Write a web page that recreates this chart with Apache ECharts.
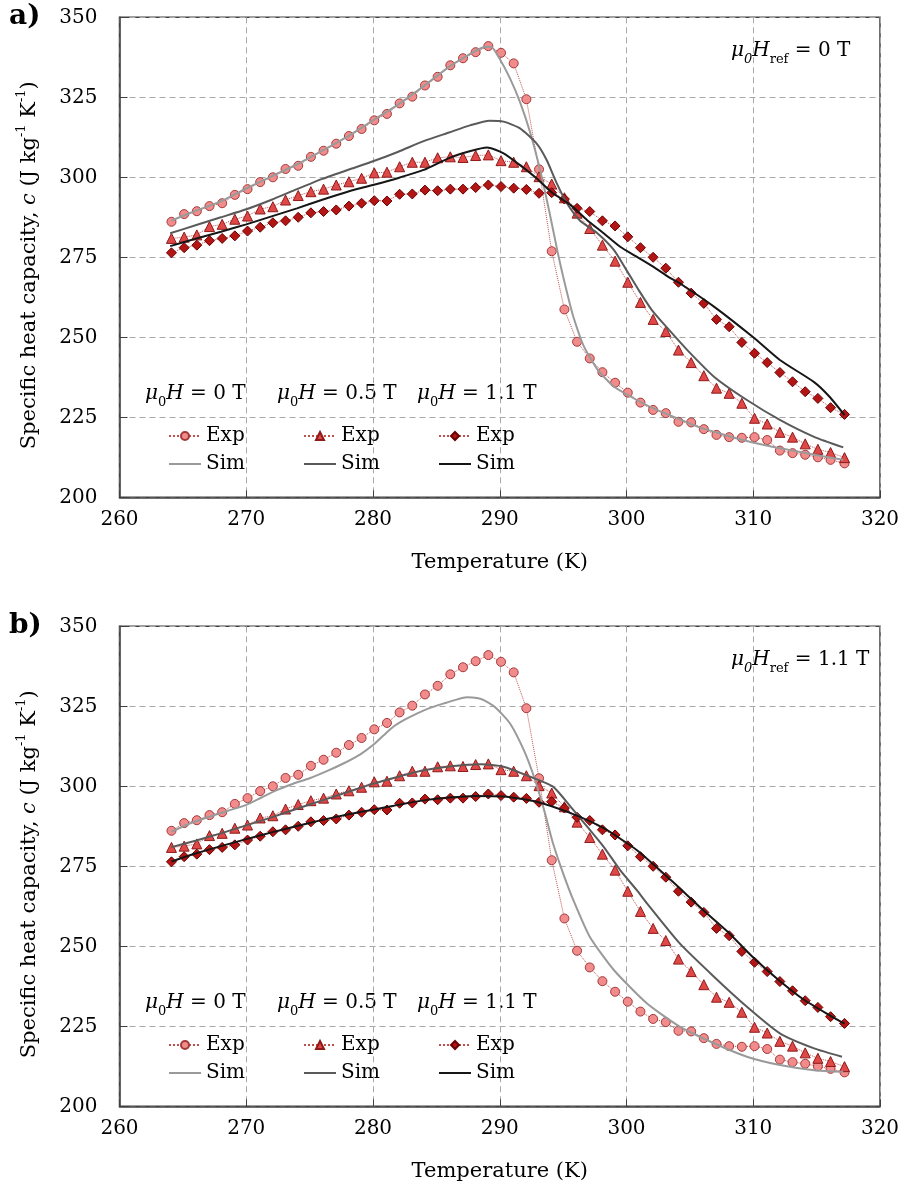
<!DOCTYPE html>
<html>
<head>
<meta charset="utf-8">
<script src="https://cdn.jsdelivr.net/npm/echarts@6/dist/echarts.min.js"></script>
<style>
html,body{margin:0;padding:0;background:#fff;}
#chart{width:904px;height:1185px;}
</style>
</head>
<body>
<div id="chart"></div>
<script>
// ---------------- DATA ----------------
const xTicks = [260, 270, 280, 290, 300, 310, 320];
const yTicks = [200, 225, 250, 275, 300, 325, 350];

// Experimental temperatures (K)
const T_EXP = [264.1,265.1,266.1,267.1,268.1,269.1,270.1,271.1,272.1,273.1,
  274.1,275.1,276.1,277.1,278.1,279.1,280.1,281.1,282.1,283.1,
  284.1,285.1,286.1,287.1,288.1,289.1,290.1,291.1,292.1,293.1,
  294.1,295.1,296.1,297.1,298.1,299.1,300.1,301.1,302.1,303.1,
  304.1,305.1,306.1,307.1,308.1,309.1,310.1,311.1,312.1,313.1,
  314.1,315.1,316.1,317.2];

// Experimental specific heat (J kg-1 K-1)
const EXP_0T = [286.1,288.5,289.4,291.0,291.9,294.5,296.3,298.5,300.0,302.6,
  303.6,306.4,308.3,310.5,312.9,315.1,317.8,319.8,323.1,325.2,
  328.7,331.4,335.0,337.2,339.1,341.0,338.9,335.6,324.4,302.5,
  276.9,258.7,248.6,243.4,239.1,235.8,232.7,229.6,227.3,226.3,
  223.6,223.4,221.3,219.5,218.8,218.6,218.8,217.9,214.6,213.8,
  213.3,212.5,211.7,210.6];
const EXP_05T = [280.9,281.3,282.0,284.6,285.3,286.9,287.9,290.1,290.8,292.9,
  294.3,295.5,296.3,297.6,298.6,299.7,301.4,301.6,303.3,304.7,
  304.7,306.1,306.4,306.2,306.8,307.0,305.2,304.7,303.3,300.2,
  297.9,293.6,288.8,284.0,278.8,273.8,267.2,260.9,255.6,251.8,
  246.0,242.1,238.0,234.1,232.5,229.4,224.7,222.9,220.3,218.8,
  216.7,215.0,214.0,212.4];
const EXP_11T = [276.4,278.0,278.8,280.2,280.9,281.7,283.2,284.4,285.8,286.4,
  287.5,288.9,289.3,289.8,291.0,291.9,292.7,292.6,294.7,294.8,
  296.0,295.8,296.3,296.3,296.8,297.6,297.1,296.6,296.2,295.0,
  295.2,293.2,290.3,289.3,286.4,284.8,281.4,278.0,275.0,271.6,
  267.2,263.8,260.6,255.6,253.3,248.4,245.0,242.1,239.0,236.1,
  233.0,230.9,228.0,225.9];

// Simulations, panel a (reference field 0 T)
const SIM_A_0T_T = [264.1,266,268,270,272,274,276,278,280,282,284,286,287.5,288.6,289.3,290.0,290.8,291.6,292.4,293.2,293.9,294.6,295.0,295.4,295.8,296.6,297.7,299.0,300.3,302.0,303.5,305.6,307.5,309.5,311.5,313.5,315.5,317.1];
const SIM_A_0T_C = [286.5,289.5,292.5,296.5,300.3,304.0,308.3,312.8,317.8,322.8,328.5,334.5,338.2,340.5,340.8,337.0,331.0,323.5,314.0,302.0,289.5,276.0,269.0,262.5,256.5,247.5,240.0,234.6,231.5,228.0,225.5,222.1,219.8,217.6,215.8,214.3,212.8,211.7];
const SIM_A_05T_T = [264.0,266,268,270,272,274,276,278,280,282,284,286,287.7,289.2,290.3,291.6,292.9,293.7,294.5,295.3,296.3,297.7,299.0,300.0,301.0,302.0,303.2,304.8,306.9,309.5,312.1,314.8,317.1];
const SIM_A_05T_C = [282.5,285.0,287.5,290.0,293.0,296.3,299.5,302.3,305.0,308.0,311.3,314.0,316.3,317.7,317.4,315.3,310.6,305.4,298.1,291.9,286.6,282.5,277.3,271.0,264.5,258.5,253.0,246.0,237.7,230.4,224.2,218.9,215.6];
const SIM_A_11T_T = [264.0,266,268,270,272,274,276,278,280,282,284,286,287.7,289.0,290.3,291.6,292.9,294.2,295.6,296.9,298.2,299.5,300.8,302.1,303.5,304.2,306.9,310.0,312.1,314.8,316.0,317.2];
const SIM_A_11T_C = [278.5,280.8,283.0,285.3,287.8,290.3,293.0,295.5,297.6,299.8,302.3,306.0,308.2,309.3,307.5,303.8,299.7,295.0,291.3,286.6,282.5,278.3,275.2,272.1,268.4,266.9,259.6,250.0,242.9,236.0,231.5,225.7];

// Simulations, panel b (reference field 1.1 T)
const SIM_B_0T_T = [264.1,265.5,267.1,268.5,270.0,271.2,272.4,273.7,275.0,276.4,277.7,279.0,280.0,280.8,281.6,282.5,283.5,284.5,285.6,286.5,287.4,288.2,288.7,289.7,290.8,291.9,292.7,293.5,294.2,295.0,295.8,297.1,299.0,301.6,304.2,306.9,309.5,312.1,314.8,317.1];
const SIM_B_0T_C = [285.8,288.3,290.5,292.3,294.2,296.5,298.8,300.8,302.5,304.8,307.2,310.0,312.9,315.8,318.6,320.8,322.8,324.5,325.9,327.0,327.8,327.6,327.0,324.5,319.7,311.3,303.0,292.6,282.2,272.8,264.5,253.0,242.6,232.2,224.9,219.7,215.5,212.9,211.3,210.8];
const SIM_B_05T_T = [264.1,266,268,270,272,274,276,278,280,282,284,286,288.5,290.3,292.4,294.2,295.6,296.9,298.2,299.5,300.8,301.6,304.2,306.9,309.5,312.1,314.8,317.0];
const SIM_B_05T_C = [281.0,283.0,285.3,287.8,290.3,293.0,295.6,298.2,300.8,303.0,305.0,306.2,306.9,306.1,303.0,299.9,293.6,287.4,281.1,273.8,267.6,263.5,250.9,240.5,231.1,222.8,218.1,215.5];
const SIM_B_11T_T = [264.1,266,268,270,272,274,276,278,280,282,284,286,288,290.3,292.9,295.6,298.2,300.8,303.5,306,308,310,312,314,316,317.2];
const SIM_B_11T_C = [276.5,279.0,281.3,283.5,285.6,287.6,289.5,291.2,292.7,294.2,295.6,296.5,297.0,296.8,295.2,291.6,286.9,280.1,270.7,261.5,254.5,246.5,239.5,233.3,228.5,225.8];

const FIELDS = ['0 T', '0.5 T', '1.1 T'];
const REF_FIELDS = ['0 T', '1.1 T'];
const PANEL_LABELS = ['a)', 'b)'];

// ---------------- HELPERS ----------------
const F = '"DejaVu Serif", serif';
const zip = (xs, ys) => xs.map((x, i) => [x, ys[i]]);

const expStyles = [
  {symbol: 'circle', size: 9, fill: '#F28B8B', border: '#A33A3A'},
  {symbol: 'triangle', size: 10, fill: '#E04848', border: '#8E1A1A'},
  {symbol: 'diamond', size: 10, fill: '#B31515', border: '#6A0000'}
];
const simColors = ['#9A9A9A', '#5A5A5A', '#161616'];

const expData = [EXP_0T, EXP_05T, EXP_11T];
const simData = [
  [[SIM_A_0T_T, SIM_A_0T_C], [SIM_A_05T_T, SIM_A_05T_C], [SIM_A_11T_T, SIM_A_11T_C]],
  [[SIM_B_0T_T, SIM_B_0T_C], [SIM_B_05T_T, SIM_B_05T_C], [SIM_B_11T_T, SIM_B_11T_C]]
];

const gridTop = [17.3, 626.3];
const gridLeft = 119.5, gridW = 760.5, gridH = 480;

const grids = [], xAxes = [], yAxes = [], series = [], legends = [], graphics = [];

const richHead = {
  i: {fontFamily: F, fontSize: 20, fontStyle: 'italic', lineHeight: 30, fill: '#000'},
  n: {fontFamily: F, fontSize: 20, lineHeight: 30, fill: '#000'},
  s: {fontFamily: F, fontSize: 13, lineHeight: 14, verticalAlign: 'bottom', fill: '#000'},
  si: {fontFamily: F, fontSize: 13, fontStyle: 'italic', lineHeight: 14, verticalAlign: 'bottom', fill: '#000'}
};

for (let p = 0; p < 2; p++) {
  grids.push({left: gridLeft, top: gridTop[p], width: gridW, height: gridH,
    show: true, borderColor: '#404040', borderWidth: 1.5, backgroundColor: 'transparent'});
  xAxes.push({
    gridIndex: p, type: 'value', min: xTicks[0], max: xTicks[xTicks.length - 1], interval: 10,
    axisLine: {show: true, onZero: false, lineStyle: {color: '#404040', width: 1.5}},
    axisTick: {show: true, inside: true, length: 7, lineStyle: {color: '#404040', width: 1}},
    axisLabel: {fontFamily: F, fontSize: 20, color: '#000', margin: 12},
    splitLine: {show: true, lineStyle: {type: [6, 4], color: '#A8A8A8', width: 1}},
    name: 'Temperature (K)', nameLocation: 'middle', nameGap: 55,
    nameTextStyle: {fontFamily: F, fontSize: 21, color: '#000'}
  });
  yAxes.push({
    gridIndex: p, type: 'value', min: yTicks[0], max: yTicks[yTicks.length - 1], interval: 25,
    axisLine: {show: true, onZero: false, lineStyle: {color: '#404040', width: 1.5}},
    axisTick: {show: true, inside: true, length: 8, lineStyle: {color: '#404040', width: 1}},
    axisLabel: {fontFamily: F, fontSize: 20, color: '#000', margin: 22},
    splitLine: {show: true, lineStyle: {type: [6, 4], color: '#A8A8A8', width: 1}},
    name: 'Specific heat capacity, {it|c} (J kg{sup|-1} K{sup|-1})',
    nameLocation: 'middle', nameGap: 76, nameRotate: 90,
    nameTextStyle: {fontFamily: F, fontSize: 21, color: '#000', lineHeight: 28,
      padding: [0, 16, 0, 0],
      rich: {
        it: {fontFamily: F, fontSize: 21, fontStyle: 'italic', color: '#000', lineHeight: 28},
        sup: {fontFamily: F, fontSize: 13, color: '#000', lineHeight: 13, verticalAlign: 'top'}
      }}
  });

  // experimental series
  for (let f = 0; f < 3; f++) {
    const st = expStyles[f];
    series.push({
      name: 'Exp|' + f + '|' + p, type: 'line', xAxisIndex: p, yAxisIndex: p,
      data: zip(T_EXP, expData[f]), symbol: st.symbol, symbolSize: st.size,
      showSymbol: true, showAllSymbol: true,
      lineStyle: {type: 'dotted', width: 1, color: '#C0504D'},
      itemStyle: {color: st.fill, borderColor: st.border, borderWidth: 1},
      z: 2, silent: true
    });
  }
  // simulated series
  for (let f = 0; f < 3; f++) {
    const [tx, cy] = simData[p][f];
    series.push({
      name: 'Sim|' + f + '|' + p, type: 'line', xAxisIndex: p, yAxisIndex: p,
      data: zip(tx, cy), symbol: 'none', smooth: 0.2,
      lineStyle: {type: 'solid', width: 2, color: simColors[f]},
      itemStyle: {color: simColors[f]},
      z: 3, silent: true
    });
  }

  // legends (one column per field)
  const legLeft = [163, 298, 433];
  const headLeft = [145, 277, 417];
  const off = gridTop[p] - gridTop[0];
  for (let f = 0; f < 3; f++) {
    legends.push({
      orient: 'vertical', left: legLeft[f], top: 421 + off,
      data: [
        {name: 'Exp|' + f + '|' + p},
        {name: 'Sim|' + f + '|' + p, itemStyle: {opacity: 0}}
      ],
      formatter: (name) => name.split('|')[0],
      itemWidth: 32, itemHeight: 10, itemGap: 8,
      textStyle: {fontFamily: F, fontSize: 20, color: '#000'},
      selectedMode: false
    });
    graphics.push({
      type: 'text', left: headLeft[f], top: 384 + off,
      style: {text: '{i|μ}{s|0}{i|H}{n| = ' + FIELDS[f] + '}', rich: richHead, fill: '#000'}
    });
  }
  // reference-field annotation
  graphics.push({
    type: 'text', left: 731, top: 41 + off,
    style: {text: '{i|μ}{si|0}{i|H}{s|ref}{n| = ' + REF_FIELDS[p] + '}', rich: richHead, fill: '#000'}
  });
  // panel label
  graphics.push({
    type: 'text', left: 9, top: 3 + off,
    style: {text: PANEL_LABELS[p], font: 'bold 28px "DejaVu Serif"', fill: '#000'}
  });
}

const chart = echarts.init(document.getElementById('chart'), null, {renderer: 'canvas'});
chart.setOption({
  animation: false,
  backgroundColor: '#fff',
  grid: grids, xAxis: xAxes, yAxis: yAxes,
  series: series, legend: legends, graphic: graphics
});
</script>
</body>
</html>
